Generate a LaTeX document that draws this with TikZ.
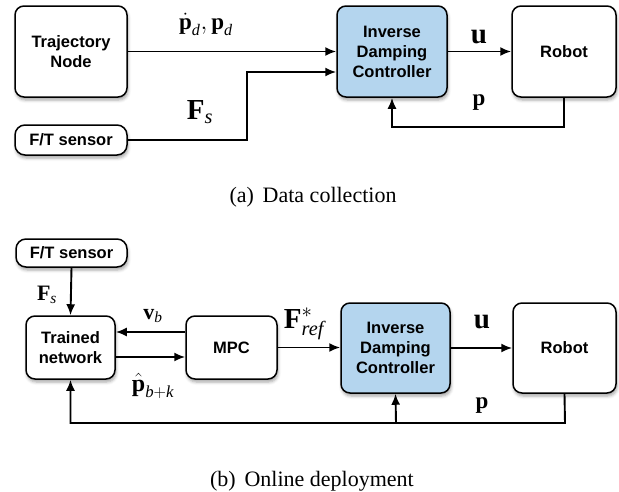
\documentclass[tikz,border=0pt]{standalone}
\usepackage{amsmath}
\usepackage{fontspec}
\setmainfont{Liberation Serif}
\setsansfont{Liberation Sans}
\usetikzlibrary{arrows.meta,shadows.blur}
\definecolor{ctrlblue}{RGB}{180,213,238}
\newcommand{\bv}[1]{\text{\normalfont\bfseries #1}}
\newcommand{\iv}[1]{\text{\normalfont\itshape #1}}

\begin{document}
\begin{tikzpicture}[x=1pt,y=-1pt,
		block/.style={draw, line width=1.5pt, rounded corners=9pt, fill=white, align=center, inner sep=0pt,
			font=\sffamily\bfseries\fontsize{16.5}{20}\selectfont,
			blur shadow={shadow xshift=1pt, shadow yshift=-3pt, shadow blur radius=3pt, shadow opacity=35}},
		ctrl/.style={block, fill=ctrlblue},
		arr/.style={-{Latex[length=11pt,width=9pt]}, line width=1.9pt},
		sig/.style={font=\fontsize{23}{23}\selectfont},
		bigsig/.style={font=\fontsize{29}{29}\selectfont},
		smallsig/.style={font=\fontsize{22}{22}\selectfont},
		capt/.style={font=\fontsize{22}{22}\selectfont}]
	\useasboundingbox (0,0) rectangle (619,491);
	% (a)
	\node[block, minimum width=112pt, minimum height=91pt] (traj) at (71,51.5) {Trajectory\\Node};
	\node[ctrl, minimum width=110pt, minimum height=91pt] (idca) at (392,51.5) {Inverse\\Damping\\Controller};
	\node[block, minimum width=104pt, minimum height=91pt] (robota) at (564,51.5) {Robot};
	\node[block, minimum width=112pt, minimum height=30pt, rounded corners=10pt] (fta) at (71,140) {F/T sensor};
	\coordinate (fsbend) at (247,72);
	\coordinate (pbenda) at (392,127);
	\draw[arr] (traj.east) -- (idca.west |- traj.east);
	\draw[arr] (fta.east) -| (fsbend) -- (idca.west |- fsbend);
	\draw[arr] (idca.east) -- (robota.west);
	\draw[arr] (robota.south) |- (pbenda) -- (idca.south);
	\node[sig] (lpd) at (206,24) {$\dot{\bv{p}}_{\iv{d}}, \bv{p}_{\iv{d}}$};
	\node[bigsig] (lfsa) at (200,112) {$\bv{F}_{\iv{s}}$};
	\node[bigsig] (lua) at (479,37) {$\bv{u}$};
	\node[sig] (lpa) at (479,103) {$\bv{p}$};
	\node[capt] (capa) at (313,197) {(a)\hspace{0.4em}Data collection};
	% (b)
	\node[block, minimum width=111pt, minimum height=28pt, rounded corners=10pt] (ftb) at (71.5,253) {F/T sensor};
	\node[block, minimum width=89pt, minimum height=63pt] (net) at (70.5,347.5) {Trained\\network};
	\node[block, minimum width=91pt, minimum height=63pt] (mpc) at (231.5,347.5) {MPC};
	\node[ctrl, minimum width=109pt, minimum height=90pt] (idcb) at (395.5,348) {Inverse\\Damping\\Controller};
	\node[block, minimum width=103pt, minimum height=90pt] (robotb) at (564.5,348) {Robot};
	\coordinate (pbendb) at (565,423);
	\coordinate (pjoin) at (396,423);
	\draw[arr] (ftb.south) -- (net.north);
	\draw[arr] ([yshift=15.5pt]mpc.west) -- ([yshift=15.5pt]net.east);
	\draw[arr] ([yshift=-9.5pt]net.east) -- ([yshift=-9.5pt]mpc.west);
	\draw[arr] (mpc.east) -- (idcb.west |- mpc.east);
	\draw[arr] (idcb.east) -- (robotb.west);
	\draw[arr] (robotb.south) -- (pbendb) -| (net.south);
	\draw[arr] (pjoin) -- (idcb.south);
	\node[smallsig] (lfsb) at (47,295) {$\bv{F}_{\iv{s}}$};
	\node[smallsig] (lvb) at (153,316) {$\bv{v}_{\iv{b}}$};
	\node[font=\fontsize{24}{24}\selectfont] (lphat) at (153,386) {$\hat{\bv{p}}_{\iv{b}+\iv{k}}$};
	\node[bigsig] (lfref) at (304,324) {$\bv{F}^{*}_{\iv{ref}}$};
	\node[bigsig] (lub) at (482,322) {$\bv{u}$};
	\node[sig] (lpb) at (482,406) {$\bv{p}$};
	\node[capt] (capb) at (312,481) {(b)\hspace{0.4em}Online deployment};
\end{tikzpicture}
\end{document}
